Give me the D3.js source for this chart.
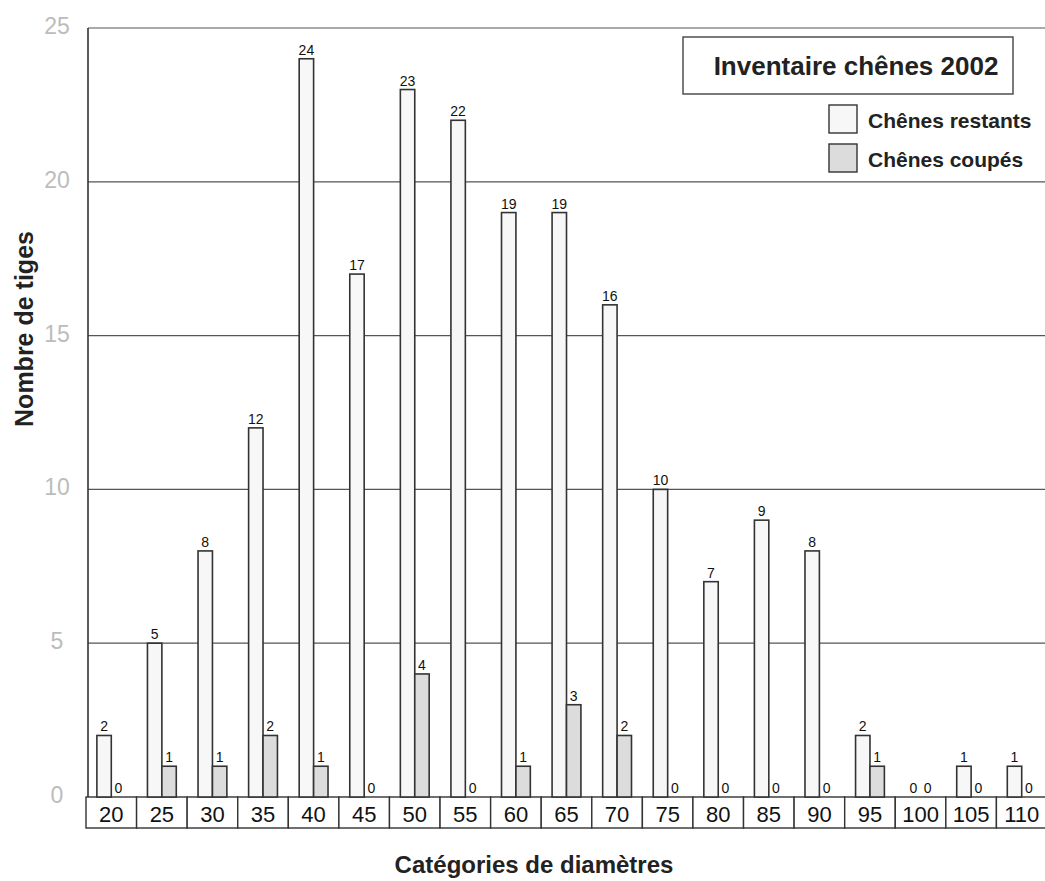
<!DOCTYPE html>
<html><head><meta charset="utf-8">
<script src="https://cdn.jsdelivr.net/npm/d3@7"></script>
<style>body{margin:0;background:#fff}svg{display:block}text{font-family:"Liberation Sans",Arial,sans-serif}</style>
</head><body>
<svg id="c" width="1045" height="881"></svg>
<script>
const categories = ["20","25","30","35","40","45","50","55","60","65","70","75","80","85","90","95","100","105","110"];
const restants = [2,5,8,12,24,17,23,22,19,19,16,10,7,9,8,2,0,1,1];
const coupes   = [0,1,1,2,1,0,4,0,1,3,2,0,0,0,0,1,0,0,0];
const seriesNames = ["Chênes restants","Chênes coupés"];
const yTicks = [0,5,10,15,20,25];
const chartTitle = "Inventaire chênes 2002";

(function(){
const svg = d3.select("#c");
const pLeft = 86, pRight = 1047, pTop = 28, pBottom = 797, boxBottom = 828;
const y = d3.scaleLinear().domain([0,25]).range([pBottom, pTop]);
const x0 = d3.scaleBand().domain(categories).range([pLeft, pRight]);
const bw = x0.bandwidth();
const x1 = d3.scaleBand().domain(seriesNames).range([bw*0.215, bw*0.785]);
const fills = {"Chênes restants":"#f7f7f7","Chênes coupés":"#dcdcdc"};

// gridlines
svg.append("g").selectAll("line").data(yTicks.filter(d=>d>0)).join("line")
  .attr("x1", pLeft+2).attr("x2", 1045).attr("y1", d=>y(d)).attr("y2", d=>y(d))
  .attr("stroke","#555").attr("stroke-width",1.2);
// y axis line
svg.append("line").attr("x1",pLeft+2).attr("x2",pLeft+2).attr("y1",pTop).attr("y2",pBottom)
  .attr("stroke","#333").attr("stroke-width",1.6);
// y tick labels
svg.append("g").selectAll("text").data(yTicks).join("text")
  .attr("x",57).attr("y",d=>y(d)+6).attr("text-anchor","middle")
  .attr("font-size",23).attr("fill","#bcbcbc").text(d=>d);

// category boxes
const gb = svg.append("g");
gb.selectAll("rect").data(categories).join("rect")
  .attr("x",d=>x0(d)).attr("y",pBottom).attr("width",bw).attr("height",boxBottom-pBottom)
  .attr("fill","#fff").attr("stroke","#333").attr("stroke-width",1.4);
gb.selectAll("text").data(categories).join("text")
  .attr("x",d=>x0(d)+bw/2).attr("y",pBottom+25).attr("text-anchor","middle")
  .attr("font-size",22).attr("fill","#111").text(d=>d);

// bars
const data = categories.map((c,i)=>({c, vals:[{s:seriesNames[0],v:restants[i]},{s:seriesNames[1],v:coupes[i]}]}));
const g = svg.append("g").selectAll("g").data(data).join("g").attr("transform",d=>`translate(${x0(d.c)},0)`);
g.selectAll("rect").data(d=>d.vals.filter(e=>e.v>0)).join("rect")
  .attr("x",e=>x1(e.s)).attr("width",x1.bandwidth()).attr("y",e=>y(e.v)).attr("height",e=>pBottom-y(e.v))
  .attr("fill",e=>fills[e.s]).attr("stroke","#333").attr("stroke-width",1.6);
g.selectAll("text").data(d=>d.vals).join("text")
  .attr("x",e=>x1(e.s)+x1.bandwidth()/2).attr("y",e=>y(e.v)-4).attr("text-anchor","middle")
  .attr("font-size",14).attr("fill","#111").text(e=>e.v);

// legend
svg.append("rect").attr("x",683).attr("y",37).attr("width",330).attr("height",57)
  .attr("fill","#fff").attr("stroke","#444").attr("stroke-width",1.4);
svg.append("text").attr("x",856).attr("y",75).attr("text-anchor","middle")
  .attr("font-size",26).attr("font-weight","bold").attr("fill","#222").text(chartTitle);
const lg = svg.append("g").selectAll("g").data(seriesNames).join("g")
  .attr("transform",(d,i)=>`translate(829,${105+i*39})`);
lg.append("rect").attr("width",28).attr("height",28).attr("fill",d=>fills[d]).attr("stroke","#333").attr("stroke-width",1.4);
lg.append("text").attr("x",39).attr("y",23).attr("font-size",21).attr("font-weight","bold").attr("fill","#222").text(d=>d);

// axis titles
svg.append("text").attr("transform","translate(33,329) rotate(-90)").attr("text-anchor","middle")
  .attr("font-size",25).attr("font-weight","bold").attr("fill","#222").text("Nombre de tiges");
svg.append("text").attr("x",534).attr("y",873).attr("text-anchor","middle")
  .attr("font-size",24).attr("font-weight","bold").attr("fill","#222").text("Catégories de diamètres");
})();
</script>
</body></html>
